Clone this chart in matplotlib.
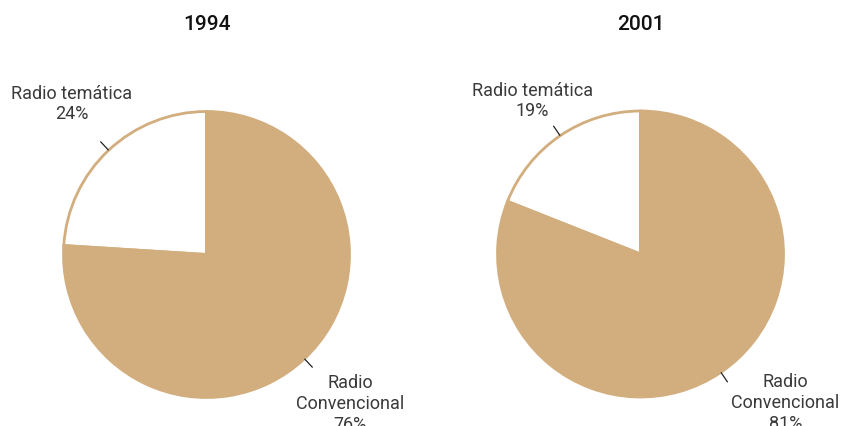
import numpy as np
import matplotlib
matplotlib.use("Agg")
import matplotlib.pyplot as plt

# ---- data ----
years = ["1994", "2001"]
categories = ["Radio temática", "Radio\nConvencional"]
values_1994 = [24, 76]
values_2001 = [19, 81]
series = [values_1994, values_2001]

# ---- style / layout ----
TAN = "#D2AE7E"
TEXT = "#3a3a3a"
W, H = 843, 427
centers_px = [(206.5, 255.5), (640.5, 255.0)]
radius_px = 143
# text anchor offsets (pixels, y up) per pie: [tematica, convencional]
text_offsets = [[(-135, 151.5), (143.5, -118.5)],
                [(-108, 154.0), (145.0, -118.5)]]

plt.rcParams['font.family'] = ['Roboto', 'DejaVu Sans']

fig = plt.figure(figsize=(W / 100, H / 100), dpi=100)
ax = fig.add_axes([0, 0, 1, 1])

for i, (yr, vals) in enumerate(zip(years, series)):
    cx, cy_img = centers_px[i]
    cy = H - cy_img
    wedges, _ = ax.pie(vals, center=(cx, cy), radius=radius_px, startangle=90,
                       counterclock=True, colors=["white", TAN],
                       wedgeprops=dict(edgecolor=TAN, linewidth=2), frame=True)
    for j, w in enumerate(wedges):
        mid = np.deg2rad((w.theta1 + w.theta2) / 2)
        r0, r1 = radius_px * 1.005, radius_px * 1.08
        ax.plot([cx + r0 * np.cos(mid), cx + r1 * np.cos(mid)],
                [cy + r0 * np.sin(mid), cy + r1 * np.sin(mid)],
                color="#222222", lw=0.9, clip_on=False)
        dx, dy = text_offsets[i][j]
        label = f"{categories[j]}\n{vals[j]}%"
        va = 'center' if j == 0 else 'top'
        ax.text(cx + dx, cy + dy, label, ha='center', va=va, fontsize=13,
                fontweight='normal', color=TEXT, linespacing=1.2, clip_on=False)
    ax.text(cx, H - 24, yr, ha='center', va='center', fontsize=15,
            fontweight='medium', color="#111111")

ax.set_xlim(0, W)
ax.set_ylim(0, H)
ax.set_aspect('equal')
ax.axis('off')

fig.savefig("out.png", dpi=100)
